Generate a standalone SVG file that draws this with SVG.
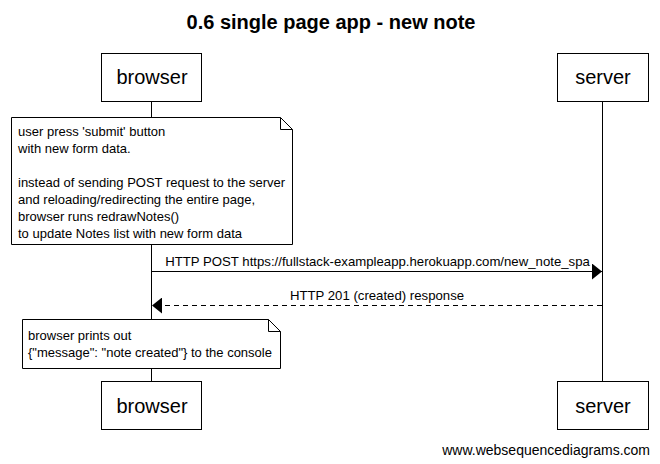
<svg xmlns="http://www.w3.org/2000/svg" width="660" height="464" viewBox="0 0 660 464">
<style>
text{font-family:"Liberation Sans",Arial,sans-serif;fill:#000}
.title{font-size:20px;font-weight:bold;text-anchor:middle}
.actor rect{fill:#fff;stroke:#000;stroke-width:1}
.actor text{font-size:20px;text-anchor:middle}
.life{stroke:#000;stroke-width:1}
.note path{fill:#fff;stroke:#000;stroke-width:1}
.note text{font-size:13px}
.msg{font-size:13.2px;text-anchor:middle}
.foot{font-size:14px;text-anchor:end}
</style>
<defs>
<marker id="ah" viewBox="0 0 10 16" refX="10" refY="8" markerWidth="10" markerHeight="16" markerUnits="userSpaceOnUse" orient="auto">
<path d="M0,0 L10,8 L0,16 Z" fill="#000"/>
</marker>
</defs>
<rect width="660" height="464" fill="#fff"/>
<text class="title" x="331" y="29">0.6 single page app - new note</text>
<g id="lifelines">
<line class="life" x1="151.5" y1="101" x2="151.5" y2="381"/>
<line class="life" x1="602.5" y1="101" x2="602.5" y2="381"/>
</g>
<g id="browser" class="actor">
<rect x="101.5" y="53.5" width="100" height="48"/>
<text x="152" y="84">browser</text>
</g>
<g id="server" class="actor">
<rect x="557.5" y="53.5" width="91" height="48"/>
<text x="603" y="84">server</text>
</g>
<g id="note1" class="note">
<path d="M11.5,117.5 H280.5 L292.5,129.5 V244.5 H11.5 Z M280.5,117.5 V129.5 H292.5"/>
<text x="18" y="136">user press 'submit' button</text>
<text x="18" y="153">with new form data.</text>
<text x="18" y="187">instead of sending POST request to the server</text>
<text x="18" y="204">and reloading/redirecting the entire page,</text>
<text x="18" y="221">browser runs redrawNotes()</text>
<text x="18" y="238">to update Notes list with new form data</text>
</g>
<g id="connectors">
<line x1="151.5" y1="271.5" x2="602" y2="271.5" stroke="#000" marker-end="url(#ah)"/>
<text class="msg" x="377.5" y="266">HTTP POST https://fullstack-exampleapp.herokuapp.com/new_note_spa</text>
<line x1="602" y1="305.5" x2="152" y2="305.5" stroke="#000" stroke-dasharray="5,4" marker-end="url(#ah)"/>
<text class="msg" x="377" y="300">HTTP 201 (created) response</text>
</g>
<g id="note2" class="note">
<path d="M22.5,319.5 H268.5 L280.5,331.5 V368.5 H22.5 Z M268.5,319.5 V331.5 H280.5"/>
<text x="28" y="340">browser prints out</text>
<text x="28" y="357">{"message": "note created"} to the console</text>
</g>
<g id="browser-bottom" class="actor">
<rect x="101.5" y="381.5" width="100" height="48"/>
<text x="152" y="413">browser</text>
</g>
<g id="server-bottom" class="actor">
<rect x="557.5" y="381.5" width="91" height="48"/>
<text x="603" y="413">server</text>
</g>
<text class="foot" x="650" y="455">www.websequencediagrams.com</text>
</svg>
